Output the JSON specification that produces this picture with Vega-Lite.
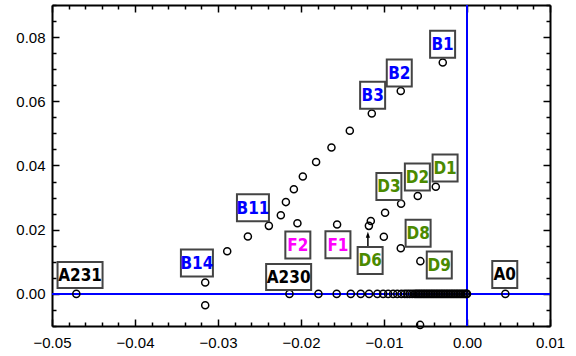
{
  "$schema": "https://vega.github.io/schema/vega-lite/v6.json",
  "width": 498,
  "height": 321,
  "autosize": {"type": "none"},
  "padding": {"left": 52, "top": 5, "right": 26, "bottom": 30},
  "background": "white",
  "config": {
    "view": {"stroke": null},
    "axis": {
      "grid": false,
      "title": null,
      "domainColor": "black",
      "domainWidth": 2,
      "tickColor": "black",
      "tickWidth": 1.5,
      "labelFont": "Liberation Sans",
      "labelFontSize": 15,
      "labelColor": "black",
      "labelFlush": false,
      "labelOverlap": false,
      "labelBound": false
    }
  },
  "datasets": {
    "pts": [
      {"x": -0.00292, "y": 0.0721}, {"x": -0.00798, "y": 0.0632}, {"x": -0.01147, "y": 0.0562},
      {"x": -0.01412, "y": 0.0508}, {"x": -0.01633, "y": 0.0456}, {"x": -0.01818, "y": 0.0411},
      {"x": -0.01978, "y": 0.0366}, {"x": -0.02086, "y": 0.0326}, {"x": -0.02182, "y": 0.0286},
      {"x": -0.02243, "y": 0.0245}, {"x": -0.02387, "y": 0.0212}, {"x": -0.0264, "y": 0.0179},
      {"x": -0.02889, "y": 0.0133}, {"x": -0.03154, "y": 0.00355}, {"x": -0.03154, "y": -0.00352},
      {"x": -0.00565, "y": -0.00966},
      {"x": -0.00376, "y": 0.0334}, {"x": -0.00593, "y": 0.0305}, {"x": -0.00794, "y": 0.0281},
      {"x": -0.00987, "y": 0.0253}, {"x": -0.01159, "y": 0.0227}, {"x": -0.01182, "y": 0.0212},
      {"x": -0.01002, "y": 0.0178}, {"x": -0.00798, "y": 0.0142}, {"x": -0.00562, "y": 0.0102},
      {"x": -0.01565, "y": 0.0216}, {"x": -0.02043, "y": 0.022},
      {"x": -0.04707, "y": 0}, {"x": -0.02139, "y": 0}, {"x": -0.0179, "y": 0}, {"x": -0.0157, "y": 0},
      {"x": -0.014, "y": 0}, {"x": -0.0128, "y": 0}, {"x": -0.0118, "y": 0}, {"x": -0.0108, "y": 0},
      {"x": -0.0101, "y": 0}, {"x": -0.0095, "y": 0}, {"x": -0.0089, "y": 0}, {"x": -0.0084, "y": 0},
      {"x": -0.0079, "y": 0}, {"x": -0.0075, "y": 0}, {"x": -0.0072, "y": 0}, {"x": -0.0069, "y": 0},
      {"x": -0.0066, "y": 0}, {"x": -0.0063, "y": 0}, {"x": -0.0061, "y": 0}, {"x": -0.0059, "y": 0},
      {"x": -0.0057, "y": 0}, {"x": -0.0055, "y": 0}, {"x": -0.0053, "y": 0}, {"x": -0.0051, "y": 0},
      {"x": -0.0049, "y": 0}, {"x": -0.0047, "y": 0}, {"x": -0.0045, "y": 0}, {"x": -0.0043, "y": 0},
      {"x": -0.0041, "y": 0}, {"x": -0.0039, "y": 0}, {"x": -0.0037, "y": 0}, {"x": -0.0035, "y": 0},
      {"x": -0.0033, "y": 0}, {"x": -0.0031, "y": 0}, {"x": -0.0029, "y": 0}, {"x": -0.0027, "y": 0},
      {"x": -0.0025, "y": 0}, {"x": -0.0023, "y": 0}, {"x": -0.0021, "y": 0}, {"x": -0.0019, "y": 0},
      {"x": -0.0017, "y": 0}, {"x": -0.0015, "y": 0}, {"x": -0.0013, "y": 0}, {"x": -0.0011, "y": 0},
      {"x": -0.0009, "y": 0}, {"x": -0.0007, "y": 0}, {"x": -0.0005, "y": 0}, {"x": -0.0003, "y": 0},
      {"x": -0.0001, "y": 0}, {"x": 0.0, "y": 0}, {"x": 0.00462, "y": 0}
    ],
    "labels": [
      {"label": "B1", "grp": "B", "lx": -0.00294, "ly": 0.0778},
      {"label": "B2", "grp": "B", "lx": -0.00816, "ly": 0.0688},
      {"label": "B3", "grp": "B", "lx": -0.01137, "ly": 0.0619},
      {"label": "B11", "grp": "B", "lx": -0.02579, "ly": 0.0268},
      {"label": "B14", "grp": "B", "lx": -0.03254, "ly": 0.00966},
      {"label": "A231", "grp": "A", "lx": -0.04662, "ly": 0.00592},
      {"label": "A230", "grp": "A", "lx": -0.02149, "ly": 0.00526},
      {"label": "A0", "grp": "A", "lx": 0.00455, "ly": 0.00607},
      {"label": "F2", "grp": "F", "lx": -0.02038, "ly": 0.01523},
      {"label": "F1", "grp": "F", "lx": -0.01555, "ly": 0.01533},
      {"label": "D6", "grp": "D", "lx": -0.01167, "ly": 0.01044},
      {"label": "D8", "grp": "D", "lx": -0.00589, "ly": 0.01891},
      {"label": "D9", "grp": "D", "lx": -0.00334, "ly": 0.009},
      {"label": "D3", "grp": "D", "lx": -0.00941, "ly": 0.03346},
      {"label": "D2", "grp": "D", "lx": -0.00598, "ly": 0.03645},
      {"label": "D1", "grp": "D", "lx": -0.00264, "ly": 0.03925}
    ],
    "arrow": [
      {"x": -0.01194, "y": 0.0148, "y2": 0.0184}
    ]
  },
  "layer": [
    {
      "data": {"values": [{"v": 0}]},
      "mark": {"type": "rule", "color": "#0000ff", "strokeWidth": 2},
      "encoding": {
        "x": {"field": "v", "type": "quantitative",
          "axis": {"orient": "top", "labels": false,
            "values": [-0.05,-0.048,-0.046,-0.044,-0.042,-0.04,-0.038,-0.036,-0.034,-0.032,-0.03,-0.028,-0.026,-0.024,-0.022,-0.02,-0.018,-0.016,-0.014,-0.012,-0.01,-0.008,-0.006,-0.004,-0.002,0,0.002,0.004,0.006,0.008,0.01],
            "tickSize": {"condition": {"test": "abs(round(datum.value*1000)) % 10 == 0", "value": -7}, "value": -4}}}
      }
    },
    {
      "data": {"values": [{"v": 0}]},
      "mark": {"type": "rule", "color": "#0000ff", "strokeWidth": 2},
      "encoding": {
        "y": {"field": "v", "type": "quantitative",
          "axis": {"orient": "right", "labels": false,
            "values": [-0.01,-0.005,0,0.005,0.01,0.015,0.02,0.025,0.03,0.035,0.04,0.045,0.05,0.055,0.06,0.065,0.07,0.075,0.08,0.085,0.09],
            "tickSize": {"condition": {"test": "abs(round(datum.value*1000)) % 20 == 0", "value": -7}, "value": -4}}}
      }
    },
    {
      "data": {"name": "pts"},
      "mark": {"type": "point", "shape": "circle", "size": 50, "stroke": "black", "strokeWidth": 1.5, "filled": false, "opacity": 1},
      "encoding": {
        "x": {"field": "x", "type": "quantitative",
          "scale": {"domain": [-0.05, 0.01], "nice": false, "zero": false},
          "axis": {"orient": "bottom",
            "values": [-0.05,-0.048,-0.046,-0.044,-0.042,-0.04,-0.038,-0.036,-0.034,-0.032,-0.03,-0.028,-0.026,-0.024,-0.022,-0.02,-0.018,-0.016,-0.014,-0.012,-0.01,-0.008,-0.006,-0.004,-0.002,0,0.002,0.004,0.006,0.008,0.01],
            "labelExpr": "abs(round(datum.value*1000)) % 10 == 0 ? format(datum.value, '.2f') : ''",
            "labelPadding": 16,
            "tickSize": {"condition": {"test": "abs(round(datum.value*1000)) % 10 == 0", "value": -7}, "value": -4}}},
        "y": {"field": "y", "type": "quantitative",
          "scale": {"domain": [-0.01, 0.09], "nice": false, "zero": false},
          "axis": {"orient": "left",
            "values": [-0.01,-0.005,0,0.005,0.01,0.015,0.02,0.025,0.03,0.035,0.04,0.045,0.05,0.055,0.06,0.065,0.07,0.075,0.08,0.085,0.09],
            "labelExpr": "abs(round(datum.value*1000)) % 20 == 0 ? format(datum.value, '.2f') : ''",
            "labelPadding": 14,
            "tickSize": {"condition": {"test": "abs(round(datum.value*1000)) % 20 == 0", "value": -7}, "value": -4}}}
      }
    },
    {
      "data": {"name": "arrow"},
      "mark": {"type": "rule", "color": "black", "strokeWidth": 1.5},
      "encoding": {
        "x": {"field": "x", "type": "quantitative", "axis": null},
        "y": {"field": "y", "type": "quantitative", "axis": null},
        "y2": {"field": "y2"}
      }
    },
    {
      "data": {"name": "arrow"},
      "mark": {"type": "point", "shape": "M0,-1L0.7,1L-0.7,1Z", "size": 36, "filled": true, "color": "black", "opacity": 1},
      "encoding": {
        "x": {"field": "x", "type": "quantitative", "axis": null},
        "y": {"field": "y2", "type": "quantitative", "axis": null}
      }
    },
    {
      "data": {"name": "labels"},
      "transform": [{"filter": "length(datum.label) == 2"}],
      "mark": {"type": "point", "shape": "M-0.926,-1H0.926V1H-0.926Z", "size": 729, "filled": true, "fill": "white", "stroke": "#444444", "strokeWidth": 2, "opacity": 1},
      "encoding": {
        "x": {"field": "lx", "type": "quantitative", "axis": null},
        "y": {"field": "ly", "type": "quantitative", "axis": null}
      }
    },
    {
      "data": {"name": "labels"},
      "transform": [{"filter": "length(datum.label) == 3"}],
      "mark": {"type": "point", "shape": "M-1.185,-1H1.185V1H-1.185Z", "size": 729, "filled": true, "fill": "white", "stroke": "#444444", "strokeWidth": 2, "opacity": 1},
      "encoding": {
        "x": {"field": "lx", "type": "quantitative", "axis": null},
        "y": {"field": "ly", "type": "quantitative", "axis": null}
      }
    },
    {
      "data": {"name": "labels"},
      "transform": [{"filter": "length(datum.label) == 4"}],
      "mark": {"type": "point", "shape": "M-1.667,-0.963H1.667V0.963H-1.667Z", "size": 729, "filled": true, "fill": "white", "stroke": "#444444", "strokeWidth": 2, "opacity": 1},
      "encoding": {
        "x": {"field": "lx", "type": "quantitative", "axis": null},
        "y": {"field": "ly", "type": "quantitative", "axis": null}
      }
    },
    {
      "data": {"name": "labels"},
      "mark": {"type": "text", "font": "DejaVu Sans Condensed", "fontWeight": "bold", "fontSize": 17, "align": "center", "baseline": "middle", "dy": 1},
      "encoding": {
        "x": {"field": "lx", "type": "quantitative", "axis": null},
        "y": {"field": "ly", "type": "quantitative", "axis": null},
        "text": {"field": "label"},
        "color": {"field": "grp", "type": "nominal",
          "scale": {"domain": ["A", "B", "D", "F"], "range": ["#000000", "#0000ff", "#4b8a00", "#ff00ff"]},
          "legend": null}
      }
    }
  ],
  "resolve": {"axis": {"x": "independent", "y": "independent"}}
}
